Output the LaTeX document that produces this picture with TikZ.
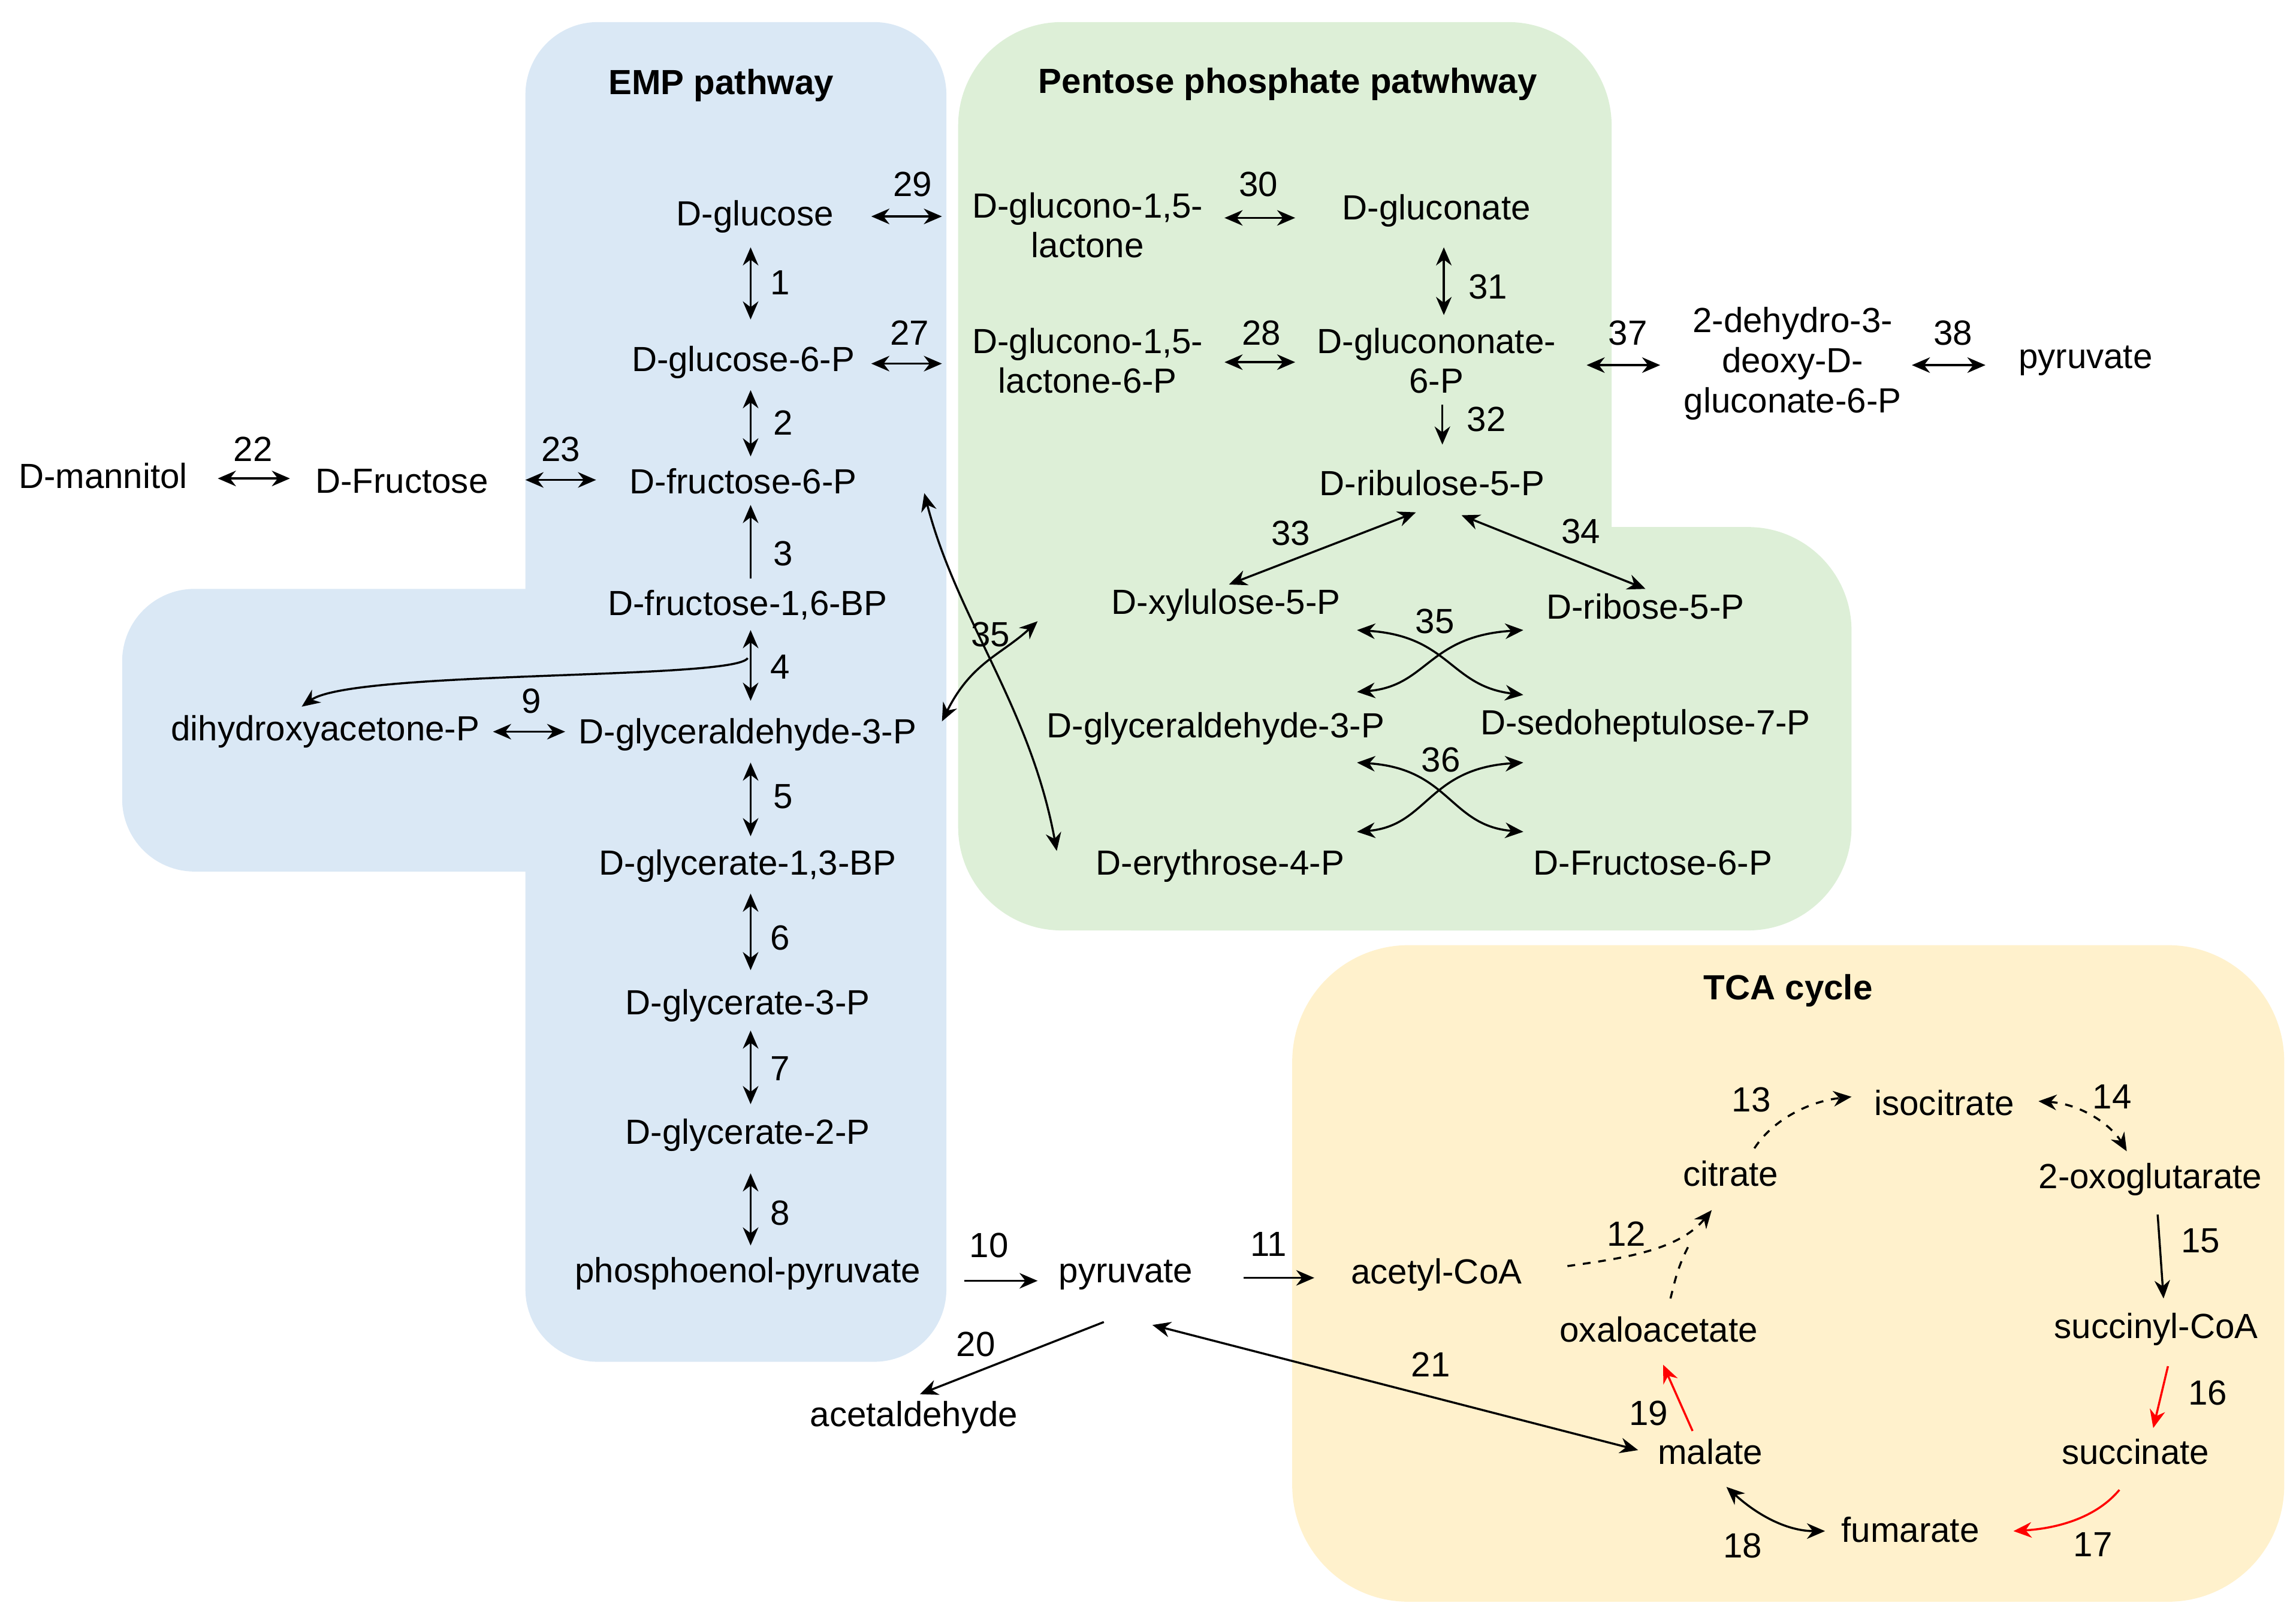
\documentclass[tikz,border=0pt]{standalone}
\usepackage{fontspec}
\setmainfont{Liberation Sans}
\usetikzlibrary{arrows.meta}
\definecolor{empblue}{RGB}{218,232,245}
\definecolor{pppgreen}{RGB}{221,239,215}
\definecolor{tcaorange}{RGB}{255,241,204}
\begin{document}
\begin{tikzpicture}[x=0.02cm,y=-0.02cm,
  every node/.style={font=\fontsize{13.5}{15.5}\selectfont, inner sep=1pt},
  met/.style={align=center},
  num/.style={},
  ttl/.style={font=\fontsize{13.5}{15.5}\selectfont\bfseries},
  >={Stealth[length=7pt,width=6pt]},
  ar/.style={->, thick},
  dbl/.style={<->, thick},
  sh/.style={shorten <=#1, shorten >=#1},
  dsh/.style={dashed, thick}]
\useasboundingbox (0,0) rectangle (1560,1099);
% backgrounds
\fill[empblue, rounded corners=28] (357,15) rectangle (643,925);
\fill[empblue, rounded corners=28] (83,400) rectangle (500,592);
\fill[pppgreen, rounded corners=40] (651,15) rectangle (1095,632);
\fill[pppgreen, rounded corners=40] (700,358) rectangle (1258,632);
\fill[tcaorange, rounded corners=45] (878,642) rectangle (1552,1088);
% titles
\node[ttl] (tEMP) at (490,58) {EMP pathway};
\node[ttl] (tPPP) at (875,57) {Pentose phosphate patwhway};
\node[ttl] (tTCA) at (1215,673) {TCA cycle};
% EMP
\node[met] (glc) at (513,147) {D-glucose};
\node[met] (g6p) at (505,246) {D-glucose-6-P};
\node[met] (f6p) at (505,327) {D-fructose-6-P};
\node[met] (fbp) at (508,411) {D-fructose-1,6-BP};
\node[met] (gap) at (508,499) {D-glyceraldehyde-3-P};
\node[met] (bpg) at (508,588) {D-glycerate-1,3-BP};
\node[met] (g3p) at (508,683) {D-glycerate-3-P};
\node[met] (g2p) at (508,771) {D-glycerate-2-P};
\node[met] (pep) at (508,865) {phosphoenol-pyruvate};
\node[met] (mtl) at (70,323) {D-mannitol};
\node[met] (fru) at (273,327) {D-Fructose};
\node[met] (dhap) at (221,497) {dihydroxyacetone-P};
\node[met] (pyr) at (765,866) {pyruvate};
\node[met] (acald) at (621,963) {acetaldehyde};
\node[met] (accoa) at (976,866) {acetyl-CoA};
% PPP
\node[met] (gl) at (739,153) {D-glucono-1,5-\\lactone};
\node[met] (gln) at (976,143) {D-gluconate};
\node[met] (gl6p) at (739,245) {D-glucono-1,5-\\lactone-6-P};
\node[met] (gln6p) at (976,245) {D-glucononate-\\6-P};
\node[met] (kdpg) at (1218,247) {2-dehydro-3-\\deoxy-D-\\gluconate-6-P};
\node[met] (pyr2) at (1417,245) {pyruvate};
\node[met] (ru5p) at (973,328) {D-ribulose-5-P};
\node[met] (xu5p) at (833,411) {D-xylulose-5-P};
\node[met] (r5p) at (1118,412) {D-ribose-5-P};
\node[met] (gap2) at (826,495) {D-glyceraldehyde-3-P};
\node[met] (s7p) at (1118,493) {D-sedoheptulose-7-P};
\node[met] (e4p) at (829,588) {D-erythrose-4-P};
\node[met] (f6p2) at (1123,586) {D-Fructose-6-P};
% TCA
\node[met] (icit) at (1321,749) {isocitrate};
\node[met] (cit) at (1176,797) {citrate};
\node[met] (akg) at (1461,801) {2-oxoglutarate};
\node[met] (oaa) at (1127,903) {oxaloacetate};
\node[met] (sucoa) at (1465,903) {succinyl-CoA};
\node[met] (mal) at (1162,986) {malate};
\node[met] (suc) at (1451,986) {succinate};
\node[met] (fum) at (1298,1039) {fumarate};
% curve end points
\coordinate (j4) at (508,447);
\coordinate (c35a) at (628,335);
\coordinate (c35b) at (718,578);
\coordinate (c35c) at (640,490);
\coordinate (c35d) at (705,422);
\coordinate (x1) at (922,428);
\coordinate (x2) at (1035,428);
\coordinate (x3) at (922,470);
\coordinate (x4) at (1035,472);
\coordinate (y1) at (922,518);
\coordinate (y2) at (1035,518);
\coordinate (y3) at (922,565);
\coordinate (y4) at (1035,565);
\coordinate (j12) at (1138,860);
% EMP arrows
\draw[dbl] (510,168) -- (510,217);
\draw[dbl] (510,265) -- (510,310);
\draw[ar] (510,393) -- (510,343);
\draw[dbl] (510,428) -- (510,476);
\draw[dbl] (510,518) -- (510,568);
\draw[dbl] (510,607) -- (510,659);
\draw[dbl] (510,700) -- (510,750);
\draw[dbl] (510,797) -- (510,846);
\draw[dbl] (148,325) -- (197,325);
\draw[dbl] (357,326) -- (405,326);
\draw[dbl] (335,497) -- (384,497);
\draw[->, thick] (j4) .. controls (500,462) and (240,455) .. (205,480);
\draw[dbl] (592,147) -- (640,147);
\draw[dbl] (592,247) -- (640,247);
\draw[ar] (655,870) -- (705,870);
\draw[ar] (845,868) -- (893,868);
\draw[ar] (750,898) -- (625,947);
\draw[dbl] (783,900) -- (1113,985);
% cross 35
\draw[dbl] (c35a) .. controls (650,420) and (700,480) .. (c35b);
\draw[dbl] (c35c) .. controls (660,450) and (680,445) .. (c35d);
% PPP arrows
\draw[dbl] (832,148) -- (880,148);
\draw[dbl] (832,246) -- (880,246);
\draw[dbl] (981,168) -- (981,214);
\draw[ar] (980,275) -- (980,302);
\draw[dbl] (835,397) -- (962,348);
\draw[dbl] (993,350) -- (1118,400);
\draw[dbl] (1078,248) -- (1128,248);
\draw[dbl] (1299,248) -- (1349,248);
\draw[dbl] (x1) .. controls (985,432) and (985,466) .. (x4);
\draw[dbl] (x2) .. controls (970,432) and (970,466) .. (x3);
\draw[dbl] (y1) .. controls (985,522) and (985,561) .. (y4);
\draw[dbl] (y2) .. controls (970,522) and (970,561) .. (y3);
% TCA arrows
\draw[dsh, ->] (1065,860) .. controls (1100,855) and (1140,850) .. (1163,822);
\draw[dsh] (1135,882) .. controls (1138,870) and (1140,860) .. (1148,845);
\draw[dsh, ->] (1192,780) .. controls (1205,760) and (1230,748) .. (1258,745);
\draw[dsh, <->] (1385,748) .. controls (1415,750) and (1435,765) .. (1445,782);
\draw[ar] (1466,825) -- (1470,882);
\draw[->, thick, red] (1473,928) -- (1463,970);
\draw[->, thick, red] (1440,1012) .. controls (1425,1030) and (1400,1038) .. (1368,1040);
\draw[dbl] (1173,1010) .. controls (1195,1030) and (1215,1040) .. (1240,1040);
\draw[->, thick, red] (1150,972) -- (1130,927);
% numbers
\node (n1) at (530,192) {1};
\node (n2) at (532,287) {2};
\node (n3) at (532,376) {3};
\node (n4) at (530,453) {4};
\node (n5) at (532,541) {5};
\node (n6) at (530,637) {6};
\node (n7) at (530,726) {7};
\node (n8) at (530,824) {8};
\node (n9) at (361,476) {9};
\node (n10) at (672,846) {10};
\node (n11) at (862,845) {11};
\node (n12) at (1105,838) {12};
\node (n13) at (1190,747) {13};
\node (n14) at (1435,745) {14};
\node (n15) at (1495,843) {15};
\node (n16) at (1500,946) {16};
\node (n17) at (1422,1049) {17};
\node (n18) at (1184,1050) {18};
\node (n19) at (1120,960) {19};
\node (n20) at (663,913) {20};
\node (n21) at (972,927) {21};
\node (n22) at (172,305) {22};
\node (n23) at (381,305) {23};
\node (n27) at (618,226) {27};
\node (n28) at (857,226) {28};
\node (n29) at (620,125) {29};
\node (n30) at (855,125) {30};
\node (n31) at (1011,195) {31};
\node (n32) at (1010,285) {32};
\node (n33) at (877,362) {33};
\node (n34) at (1074,361) {34};
\node (n35a) at (673,431) {35};
\node (n35b) at (975,422) {35};
\node (n36) at (979,516) {36};
\node (n37) at (1106,226) {37};
\node (n38) at (1327,226) {38};
\end{tikzpicture}
\end{document}
